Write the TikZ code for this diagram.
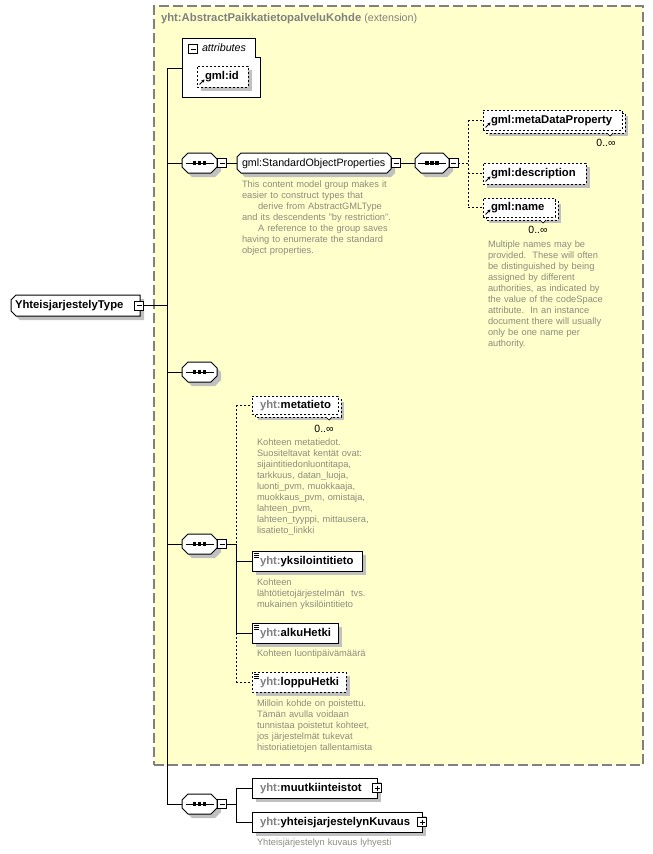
\documentclass[tikz,border=0pt]{standalone}
\usepackage{fontspec}
\setmainfont{Liberation Sans}
\usetikzlibrary{calc,shadows,arrows.meta}
\pgfdeclarelayer{back}
\pgfdeclarelayer{bg}
\pgfsetlayers{back,bg,main}
\definecolor{extfill}{RGB}{255,255,204}
\definecolor{extline}{RGB}{128,128,128}
\definecolor{shadowc}{RGB}{192,192,192}
\definecolor{descc}{RGB}{140,140,125}
\definecolor{prefc}{RGB}{128,128,128}
\newcommand\lbf[1]{{\fontsize{11.3}{13}\selectfont\bfseries #1}}
\newcommand\pfx[1]{{\color{prefc}\lbf{#1}}}
\newcommand\chshape[3]{%
 \begin{pgfonlayer}{bg}
 \fill[shadowc] let \p1=(#1.north west), \p2=(#1.south east) in
  (\x1+#2+4pt,\y1-4pt) -- (\x2-#3+4pt,\y1-4pt) -- (\x2+4pt,\y1-#3-4pt) -- (\x2+4pt,\y2+#3-4pt) -- (\x2-#3+4pt,\y2-4pt) -- (\x1+#2+4pt,\y2-4pt) -- (\x1+4pt,\y2+#2-4pt) -- (\x1+4pt,\y1-#2-4pt) -- cycle;
 \draw[line width=1pt, fill=white] let \p1=(#1.north west), \p2=(#1.south east) in
  (\x1+#2,\y1) -- (\x2-#3,\y1) -- (\x2,\y1-#3) -- (\x2,\y2+#3) -- (\x2-#3,\y2) -- (\x1+#2,\y2) -- (\x1,\y2+#2) -- (\x1,\y1-#2) -- cycle;
 \end{pgfonlayer}}
\newcommand\seqdots[1]{%
 \draw[line width=1pt] ([xshift=-14pt]#1.center) -- ([xshift=14pt]#1.center);
 \foreach \d in {-5,0,5}{\fill ([xshift=\d pt]#1.center) ++(-1.8,-1.8) rectangle ++(3.6,3.6);}}
\newcommand\multiback[2]{%
 \begin{pgfonlayer}{bg}
 \fill[shadowc] ([shift={(6pt,-6pt)}]#1.north west) rectangle ([shift={(6pt,-6pt)}]#1.south east);
 \draw[line width=1pt, dash pattern=on 2pt off 2pt, fill=white] ([shift={(3pt,-3pt)}]#1.north west) rectangle ([shift={(3pt,-3pt)}]#1.south east);
 \end{pgfonlayer}
 \draw[line width=0.7pt, fill=white] ([shift={(-#2-3pt,-3pt)}]#1.south east) -- ++(3,3) -- ++(3,-3);}
\newcommand\refarrow[1]{\draw[line width=1pt, -{Stealth[length=3pt,width=3.5pt]}] ([shift={(2.5pt,2.5pt)}]#1.south west) -- ++(5,-5);}
\newcommand\simpicon[1]{\foreach \k in {2,4,6}{\draw[line width=0.8pt] ([shift={(2pt,-\k pt)}]#1.north west) -- ++(5,0);}}
\begin{document}
\begin{tikzpicture}[x=1pt,y=-1pt,
 every node/.style={outer sep=0pt},
 lab/.style={font=\fontsize{10.7}{13}\selectfont, text height=8.5pt, text depth=2.5pt, align=left},
 elbase/.style={lab, rectangle, anchor=north west, inner ysep=0pt, inner xsep=8pt, line width=1pt, fill=white},
 solidel/.style={elbase, draw, drop shadow={shadow xshift=4pt, shadow yshift=-4pt, fill=shadowc, opacity=1}},
 dashel/.style={solidel, dash pattern=on 2pt off 2pt},
 multiel/.style={elbase, draw, dash pattern=on 2pt off 2pt},
 ghost/.style={lab, rectangle, anchor=north west, inner ysep=0pt, draw=none},
 desc/.style={anchor=north west, inner sep=0pt, align=left, text width=230pt, text=descc, font=\fontsize{9.3}{11}\selectfont},
 pmbox/.style={draw, fill=white, minimum size=9pt, inner sep=0pt, line width=1pt},
 minus/.style={pmbox, path picture={\draw[line width=1pt] ([xshift=2pt]path picture bounding box.west) -- ([xshift=-2pt]path picture bounding box.east);}},
 plus/.style={pmbox, path picture={\draw[line width=1pt] ([xshift=2pt]path picture bounding box.west) -- ([xshift=-2pt]path picture bounding box.east) ([yshift=2pt]path picture bounding box.south) -- ([yshift=-2pt]path picture bounding box.north);}},
 conn/.style={line width=1pt},
 dconn/.style={line width=1pt, dash pattern=on 2pt off 2pt},
 occ/.style={font=\fontsize{10.5}{12}\selectfont, inner sep=0pt}
]
\useasboundingbox (0,0) rectangle (653,854);
\begin{pgfonlayer}{back}
\node[draw=extline, fill=extfill, line width=1.2pt, dash pattern=on 10pt off 4pt, anchor=north west, minimum width=489pt, minimum height=759pt, inner sep=0pt] (ext) at (154,6) {};
\end{pgfonlayer}
\node[anchor=west, inner sep=0pt, text=prefc, font=\fontsize{10.7}{13}\selectfont] (title) at (161,19) {\lbf{yht:AbstractPaikkatietopalveluKohde} (extension)};

% complex type
\node[ghost, minimum width=129pt, minimum height=21pt, inner xsep=4pt, text width=121pt] (yt) at (11,295) {\lbf{YhteisjarjestelyType}};
\chshape{yt}{5pt}{0pt}
\node[minus] (ytm) at (139,305.5) {};

% attributes
\node[ghost, minimum width=78pt, minimum height=59pt] (attr) at (182,38) {};
\begin{pgfonlayer}{bg}
\draw[line width=1pt, fill=white] let \p1=(attr.north west), \p2=(attr.south east) in (\x1,\y1) -- (\x2-5pt,\y1) -- (\x2-5pt,\y1-19pt) -- (\x2,\y1-19pt) -- (\x2,\y2) -- (\x1,\y2) -- cycle;
\end{pgfonlayer}
\node[minus] (attm) at (193,49) {};
\node[anchor=west, inner sep=0pt, font=\fontsize{10.7}{13}\selectfont\itshape] (attl) at (202,48) {attributes};
\node[dashel, minimum width=51pt, minimum height=21pt, text width=35pt] (gid) at (197,66) {\lbf{gml:id}};
\refarrow{gid}

% sequence 1 and standard object properties
\node[ghost, minimum width=35pt, minimum height=20pt] (s1) at (182,153) {};
\chshape{s1}{6pt}{6pt}
\seqdots{s1}
\node[minus] (s1m) at (222,163) {};
\node[ghost, minimum width=154pt, minimum height=20pt, inner xsep=5pt, text width=144pt] (sop) at (237,153) {gml:StandardObjectProperties};
\chshape{sop}{4pt}{4pt}
\node[minus] (sopm) at (396,163) {};
\node[desc] (sopd) at (242,181) {This content model group makes it\\easier to construct types that\\\hspace*{16pt}derive from AbstractGMLType\\and its descendents "by restriction".\\\hspace*{16pt}A reference to the group saves\\having to enumerate the standard\\object properties.};
\node[ghost, minimum width=34pt, minimum height=20pt] (s2) at (415,153) {};
\chshape{s2}{6pt}{6pt}
\seqdots{s2}
\node[minus] (s2m) at (453.5,163) {};
\coordinate (j2) at (468,163);

\node[multiel, minimum width=139pt, minimum height=20pt, text width=123pt] (mdp) at (483,110) {\lbf{gml:metaDataProperty}};
\multiback{mdp}{12pt}
\refarrow{mdp}
\node[occ] (mdpo) at (606,143) {0..∞};
\node[dashel, minimum width=103pt, minimum height=21pt, text width=87pt] (gdes) at (483,163) {\lbf{gml:description}};
\refarrow{gdes}
\node[multiel, minimum width=72pt, minimum height=19pt, text width=56pt] (gnam) at (483,198) {\lbf{gml:name}};
\multiback{gnam}{12pt}
\refarrow{gnam}
\node[occ] (gnamo) at (538,230) {0..∞};
\node[desc] (gnamd) at (488,241) {Multiple names may be\\provided.\ \ These will often\\be distinguished by being\\assigned by different\\authorities, as indicated by\\the value of the codeSpace\\attribute.\ \ In an instance\\document there will usually\\only be one name per\\authority.};

% sequence 3
\node[ghost, minimum width=35pt, minimum height=20pt] (s3) at (182,362) {};
\chshape{s3}{6pt}{6pt}
\seqdots{s3}

% sequence 4
\node[ghost, minimum width=35pt, minimum height=20pt] (s4) at (182,534) {};
\chshape{s4}{6pt}{6pt}
\seqdots{s4}
\node[minus] (s4m) at (222,544) {};
\coordinate (j4) at (236,544);
\node[multiel, minimum width=86pt, minimum height=18pt, text width=70pt] (met) at (252,396) {\pfx{yht:}\lbf{metatieto}};
\multiback{met}{9pt}
\node[occ] (meto) at (324,429) {0..∞};
\node[desc] (metd) at (257,439) {Kohteen metatiedot.\\Suositeltavat kentät ovat:\\sijaintitiedonluontitapa,\\tarkkuus, datan\_luoja,\\luonti\_pvm, muokkaaja,\\muokkaus\_pvm, omistaja,\\lahteen\_pvm,\\lahteen\_tyyppi, mittausera,\\lisatieto\_linkki};
\node[solidel, minimum width=110pt, minimum height=20pt, text width=94pt] (yks) at (252,551) {\pfx{yht:}\lbf{yksilointitieto}};
\simpicon{yks}
\node[desc] (yksd) at (257,579) {Kohteen\\lähtötietojärjestelmän\ \ tvs.\\mukainen yksilöintitieto};
\node[solidel, minimum width=86pt, minimum height=20pt, text width=70pt] (alku) at (252,623) {\pfx{yht:}\lbf{alkuHetki}};
\simpicon{alku}
\node[desc] (alkud) at (257,650) {Kohteen luontipäivämäärä};
\node[dashel, minimum width=94pt, minimum height=20pt, text width=78pt] (lop) at (252,672) {\pfx{yht:}\lbf{loppuHetki}};
\simpicon{lop}
\node[desc] (lopd) at (257,700) {Milloin kohde on poistettu.\\Tämän avulla voidaan\\tunnistaa poistetut kohteet,\\jos järjestelmät tukevat\\historiatietojen tallentamista};

% sequence 5
\node[ghost, minimum width=35pt, minimum height=20pt] (s5) at (182,794) {};
\chshape{s5}{6pt}{6pt}
\seqdots{s5}
\node[minus] (s5m) at (222,804) {};
\coordinate (j5) at (236,804);
\node[solidel, minimum width=125pt, minimum height=20pt, text width=109pt] (muu) at (252,778) {\pfx{yht:}\lbf{muutkiinteistot}};
\node[plus] (muup) at (377,788) {};
\node[solidel, minimum width=170pt, minimum height=20pt, text width=154pt] (yhk) at (252,812) {\pfx{yht:}\lbf{yhteisjarjestelynKuvaus}};
\node[plus] (yhkp) at (422,822) {};
\node[desc] (yhkd) at (257,839) {Yhteisjärjestelyn kuvaus lyhyesti};

% connectors
\coordinate (tr) at (167,305.5);
\coordinate (ttop) at (167,68);
\coordinate (tbot) at (tr |- s5.west);
\draw[conn] (ytm.east) -- (tr);
\draw[conn] (ttop) -- (tbot);
\draw[conn] (ttop) -- (ttop -| attr.west);
\draw[conn] (tr |- s1.west) -- (s1.west);
\draw[conn] (tr |- s3.west) -- (s3.west);
\draw[conn] (tr |- s4.west) -- (s4.west);
\draw[conn] (tbot) -- (s5.west);
\draw[conn] (s1m.east) -- (sop.west);
\draw[conn] (sopm.east) -- (s2.west);
\draw[dconn] (s2m.east) -- (j2);
\draw[dconn] (j2 |- mdp.west) -- (j2 |- gnam.west);
\draw[dconn] (j2 |- mdp.west) -- (mdp.west);
\draw[dconn] (j2 |- gdes.west) -- (gdes.west);
\draw[dconn] (j2 |- gnam.west) -- (gnam.west);
\draw[conn] (s4m.east) -- (j4);
\draw[dconn] (j4 |- met.west) -- (j4);
\draw[conn] (j4) -- (j4 |- alku.west);
\draw[dconn] (j4 |- alku.west) -- (j4 |- lop.west);
\draw[dconn] (j4 |- met.west) -- (met.west);
\draw[conn] (j4 |- yks.west) -- (yks.west);
\draw[conn] (j4 |- alku.west) -- (alku.west);
\draw[dconn] (j4 |- lop.west) -- (lop.west);
\draw[conn] (s5m.east) -- (j5);
\draw[conn] (j5 |- muu.west) -- (j5 |- yhk.west);
\draw[conn] (j5 |- muu.west) -- (muu.west);
\draw[conn] (j5 |- yhk.west) -- (yhk.west);
\end{tikzpicture}
\end{document}
